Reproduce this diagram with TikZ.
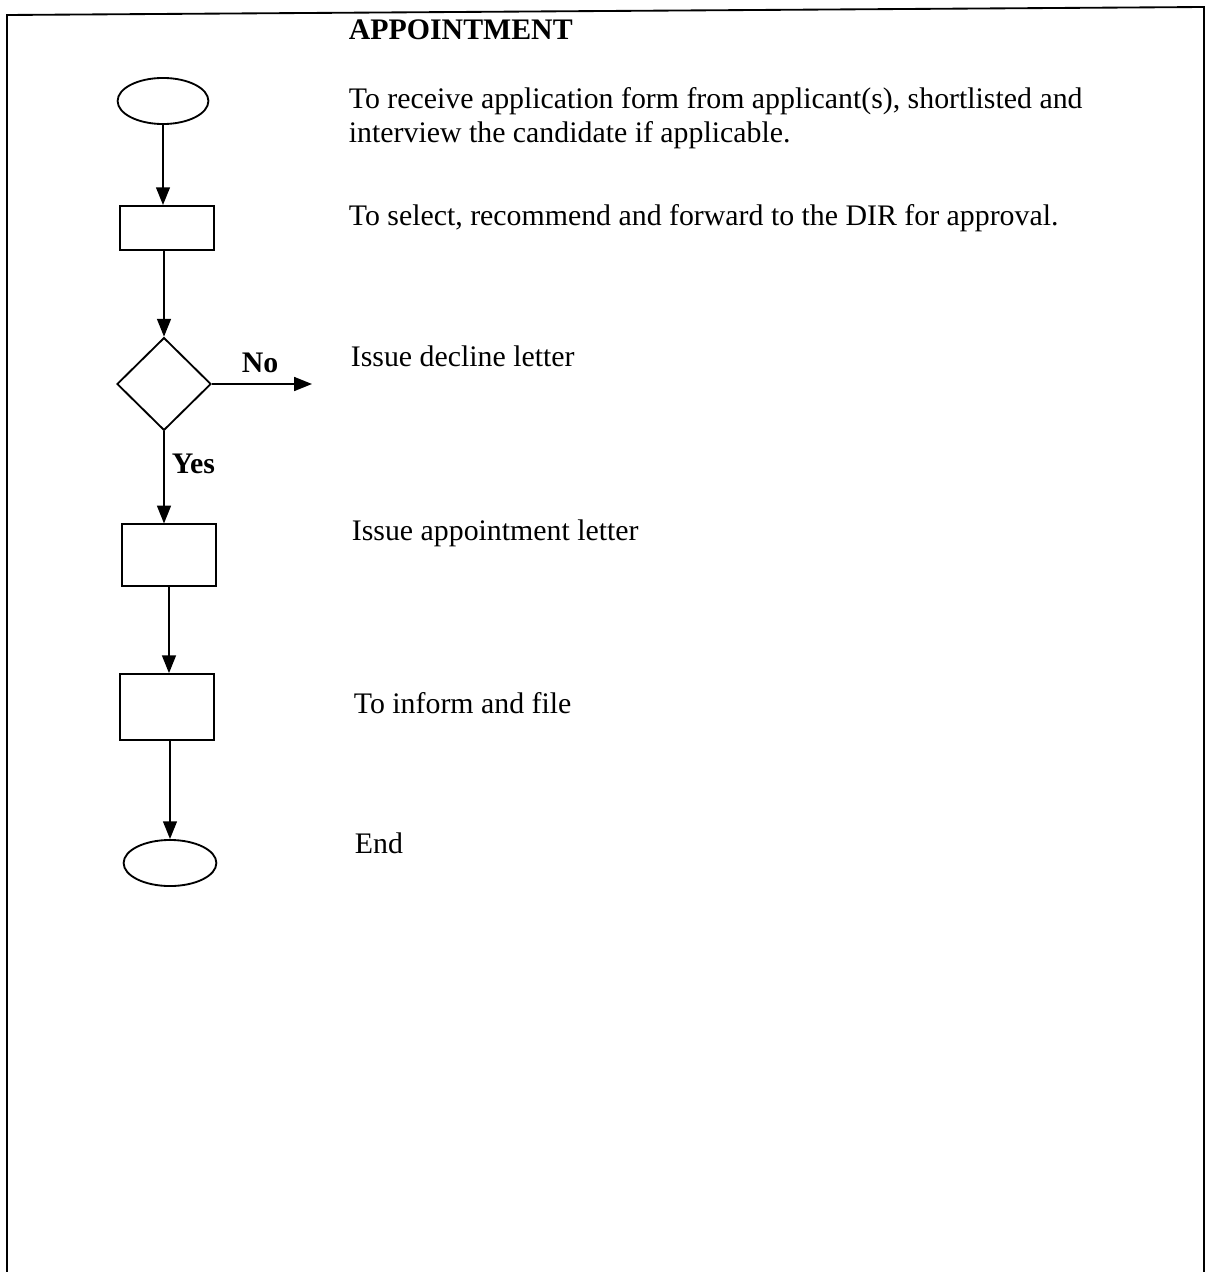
\documentclass[tikz,border=0pt]{standalone}
\usepackage{fontspec}
\setmainfont{Liberation Serif}
\usetikzlibrary{arrows.meta, shapes.geometric}

\begin{document}
\begin{tikzpicture}[x=0.0152cm, y=-0.0152cm,
	box/.style={draw, minimum width=1.43cm, inner sep=0pt},
	term/.style={draw, ellipse, minimum width=1.38cm, minimum height=0.7cm, inner sep=0pt},
	decision/.style={draw, diamond, minimum width=1.43cm, minimum height=1.41cm, inner sep=0pt},
	txt/.style={anchor=base west, inner sep=0pt, font=\fontsize{12.9}{14.8}\selectfont, align=left},
	lbl/.style={anchor=base west, inner sep=0pt, font=\fontsize{12.9}{15}\selectfont\bfseries},
	>={Triangle[width=0.21cm, length=0.27cm]}, line width=0.8pt]
	\useasboundingbox (0,0) rectangle (1210,1272);
	% frame (open at the bottom)
	\draw (7,1272) -- (7,15) -- (1204,7) -- (1204,1272);
	% flow chart
	\node[term] (start) at (163,101) {};
	\node[box, minimum height=0.67cm] (select) at (167,228) {};
	\node[decision] (dec) at (164,384) {};
	\coordinate (no) at (312,384);
	\node[box, minimum height=0.93cm] (appoint) at (169,555) {};
	\node[box, minimum height=1.0cm] (file) at (167,707) {};
	\node[term, minimum width=1.41cm] (end) at (170,863) {};
	\draw[->] (start) -- (start |- select.north);
	\draw[->] (select.south -| dec) -- (dec);
	\draw[->] (dec) -- (no);
	\draw[->] (dec) -- (dec |- appoint.north);
	\draw[->] (appoint) -- (appoint |- file.north);
	\draw[->] (file.south -| end) -- (end);
	\node[lbl] (nolbl) at (241,372) {No};
	\node[lbl] (yeslbl) at (171,473) {Yes};
	% descriptions
	\node[lbl] (title) at (348,40) {APPOINTMENT};
	\node[txt] (t1) at (348,143) {To receive application form from applicant(s), shortlisted and\\interview the candidate if applicable.};
	\node[txt] (t2) at (348,226) {To select, recommend and forward to the DIR for approval.};
	\node[txt] (t3) at (350,366) {Issue decline letter};
	\node[txt] (t4) at (351,540) {Issue appointment letter};
	\node[txt] (t5) at (353,713) {To inform and file};
	\node[txt] (t6) at (354,853) {End};
\end{tikzpicture}
\end{document}
